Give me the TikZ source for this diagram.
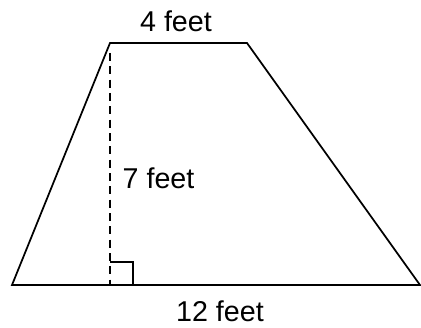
\documentclass[tikz,border=0pt]{standalone}
\usepackage{fontspec}
\setmainfont{Liberation Sans}
\begin{document}
\begin{tikzpicture}[x=0.75pt,y=-0.75pt,
  edge/.style={line width=1.3pt},
  height/.style={line width=1.1pt,dash pattern=on 6pt off 4pt},
  lbl/.style={font=\fontsize{21.5}{25}\selectfont}]
\useasboundingbox (0,0) rectangle (421,328);
% corners
\coordinate (bl) at (12,285);
\coordinate (br) at (420,285);
\coordinate (tr) at (247,43);
\coordinate (tl) at (110,43);
\coordinate (foot) at (110,285);
\coordinate (top) at (110,53);
\draw[edge] (bl) -- (br) -- (tr) -- (tl) -- cycle;
\draw[height] (top) -- (foot);
\draw[line width=1pt] (110,262) -- (133,262) -- (133,285);
\node[lbl] (w) at (176,21) {4 feet};
\node[lbl,anchor=west] (h) at (118,178) {7 feet};
\node[lbl] (b) at (220,311) {12 feet};
\end{tikzpicture}
\end{document}
